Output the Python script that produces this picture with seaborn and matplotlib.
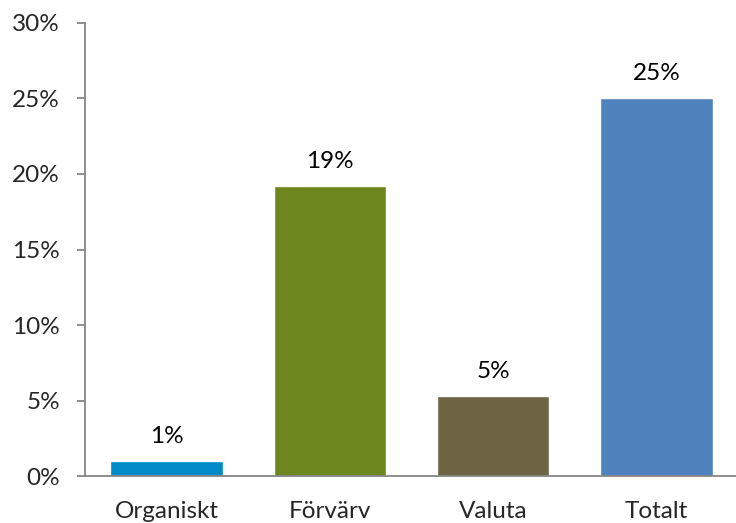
import matplotlib
matplotlib.use("Agg")
import matplotlib.pyplot as plt
import seaborn as sns
import pandas as pd

sns.set_style("white")
plt.rcParams['font.family'] = ['Lato', 'DejaVu Sans']

# Data
categories = ['Organiskt', 'Förvärv', 'Valuta', 'Totalt']
values = [1.0, 19.2, 5.3, 25.0]
labels = ['1%', '19%', '5%', '25%']
colors = ['#008AC8', '#6E861E', '#6E6343', '#4F81BD']

df = pd.DataFrame({'cat': categories, 'val': values})

fig = plt.figure(figsize=(7.36, 5.23), dpi=100)
ax = fig.add_axes([85 / 736, 1 - 476.3 / 523, 653 / 736, 453.6 / 523])

sns.barplot(data=df, x='cat', y='val', hue='cat', palette=colors,
            width=0.69, legend=False, ax=ax, saturation=1)

fs = 17.5
for p, lab in zip(ax.patches, labels):
    ax.annotate(lab, (p.get_x() + p.get_width() / 2, p.get_height()),
                xytext=(0, 10), textcoords='offset points',
                ha='center', va='bottom', fontsize=fs, color='black')

ax.set_ylim(0, 30)
ax.set_xlim(-0.5, 3.5)
ax.set_yticks(range(0, 31, 5))
ax.set_yticklabels([f'{v}%' for v in range(0, 31, 5)], fontsize=fs)
ax.set_xlabel('')
ax.set_ylabel('')

# category labels at centers, tick marks at boundaries
ax.set_xticks(range(len(categories)))
ax.set_xticklabels(categories, fontsize=fs)
ax.set_xticks([-0.5, 0.5, 1.5, 2.5, 3.5], minor=True)
ax.tick_params(axis='x', which='major', length=0, pad=18)
ax.tick_params(axis='x', which='minor', length=6, width=1.3, color='#868686', direction='out')
ax.tick_params(axis='y', length=6, width=1.3, color='#868686', direction='out', left=True, pad=12)

for s in ['top', 'right']:
    ax.spines[s].set_visible(False)
for s in ['left', 'bottom']:
    ax.spines[s].set_color('#868686')
    ax.spines[s].set_linewidth(1.3)
ax.grid(False)

fig.savefig('out.png', dpi=100)
